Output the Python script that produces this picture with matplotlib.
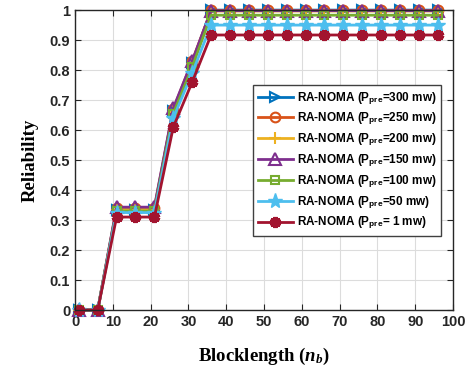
import matplotlib
matplotlib.use('Agg')
import matplotlib.pyplot as plt

plt.rcParams['font.family'] = 'Liberation Sans'
plt.rcParams['font.weight'] = 'bold'
plt.rcParams['mathtext.fontset'] = 'custom'
plt.rcParams['mathtext.rm'] = 'Liberation Sans:bold'
plt.rcParams['mathtext.bf'] = 'Liberation Sans:bold'
plt.rcParams['mathtext.it'] = 'Liberation Serif:bold:italic'

# %% Reliability vs blocklength for each preamble power
blocklength = [1, 6, 11, 16, 21, 26, 31, 36, 41, 46, 51, 56, 61, 66, 71, 76, 81, 86, 91, 96]

rel_300 = [0, 0, 0.335, 0.335, 0.335, 0.665, 0.825, 1.0, 1.0, 1.0, 1.0, 1.0, 1.0, 1.0, 1.0, 1.0, 1.0, 1.0, 1.0, 1.0]
rel_250 = [0, 0, 0.34, 0.34, 0.34, 0.67, 0.83, 0.999, 0.999, 0.999, 0.999, 0.999, 0.999, 0.999, 0.999, 0.999, 0.999, 0.999, 0.999, 0.999]
rel_200 = [0, 0, 0.335, 0.335, 0.335, 0.66, 0.82, 0.997, 0.997, 0.997, 0.997, 0.997, 0.997, 0.997, 0.997, 0.997, 0.997, 0.997, 0.997, 0.997]
rel_150 = [0, 0, 0.343, 0.343, 0.343, 0.673, 0.83, 0.998, 0.998, 0.998, 0.998, 0.998, 0.998, 0.998, 0.998, 0.998, 0.998, 0.998, 0.998, 0.998]
rel_100 = [0, 0, 0.33, 0.33, 0.33, 0.655, 0.81, 0.983, 0.983, 0.983, 0.983, 0.983, 0.983, 0.983, 0.983, 0.983, 0.983, 0.983, 0.983, 0.983]
rel_50 = [0, 0, 0.325, 0.325, 0.325, 0.64, 0.79, 0.95, 0.95, 0.95, 0.95, 0.95, 0.95, 0.95, 0.95, 0.95, 0.95, 0.95, 0.95, 0.95]
rel_1 = [0, 0, 0.31, 0.31, 0.31, 0.61, 0.76, 0.917, 0.917, 0.917, 0.917, 0.917, 0.917, 0.917, 0.917, 0.917, 0.917, 0.917, 0.917, 0.917]

labels = ['RA-NOMA (P$_{\\mathrm{pre}}$=300 mw)',
          'RA-NOMA (P$_{\\mathrm{pre}}$=250 mw)',
          'RA-NOMA (P$_{\\mathrm{pre}}$=200 mw)',
          'RA-NOMA (P$_{\\mathrm{pre}}$=150 mw)',
          'RA-NOMA (P$_{\\mathrm{pre}}$=100 mw)',
          'RA-NOMA (P$_{\\mathrm{pre}}$=50 mw)',
          'RA-NOMA (P$_{\\mathrm{pre}}$= 1 mw)']

# matlab default colour order
colors = ['#0072BD', '#D95319', '#EDB120', '#7E2F8E', '#77AC30', '#4DBEEE', '#A2142F']

fig = plt.figure(figsize=(4.73, 3.74), dpi=100)
ax = fig.add_axes([0.1586, 0.171, 0.7991, 0.802])

series = [rel_300, rel_250, rel_200, rel_150, rel_100, rel_50, rel_1]
styles = [dict(marker='>', mfc='none', ms=7, mew=1.5),
          dict(marker='o', mfc='none', ms=7, mew=1.5),
          dict(marker='+', ms=9, mew=1.5),
          dict(marker='^', mfc='none', ms=8, mew=1.5),
          dict(marker='s', mfc='none', ms=6, mew=1.5),
          dict(marker='*', ms=11, mew=1),
          dict(marker=(6, 2, 0), ms=8, mew=3)]

for vals, lab, col, st in zip(series, labels, colors, styles):
    ax.plot(blocklength, vals, color=col, lw=2, label=lab, clip_on=False, **st)

ax.set_xlim(0, 100)
ax.set_ylim(0, 1)
ax.set_xticks(range(0, 101, 10))
ax.set_yticks([0, 0.1, 0.2, 0.3, 0.4, 0.5, 0.6, 0.7, 0.8, 0.9, 1])
ax.set_yticklabels(['0', '0.1', '0.2', '0.3', '0.4', '0.5', '0.6', '0.7', '0.8', '0.9', '1'])
ax.tick_params(direction='in', top=True, right=True, labelsize=10.5, length=4, colors='#262626')
for lbl in ax.get_xticklabels() + ax.get_yticklabels():
    lbl.set_fontweight('bold')
ax.grid(True, color='#dcdcdc', lw=0.8)
ax.set_axisbelow(True)
for sp in ax.spines.values():
    sp.set_color('#262626')
    sp.set_linewidth(1)

ax.set_xlabel('Blocklength ($n_b$)', family='Liberation Serif', fontweight='bold', fontsize=13.5, labelpad=12)
ax.set_ylabel('Reliability', family='Liberation Serif', fontweight='bold', fontsize=13.5, labelpad=8)

leg = ax.legend(loc='upper left', bbox_to_anchor=(0.471, 0.75), borderaxespad=0,
                fancybox=False, framealpha=1, edgecolor='#404040', fontsize=8.5,
                handlelength=3.0, labelspacing=0.35, borderpad=0.4, handletextpad=0.3)
leg.get_frame().set_linewidth(1)
for t in leg.get_texts():
    t.set_fontweight('bold')

fig.savefig('out.png', dpi=100)
